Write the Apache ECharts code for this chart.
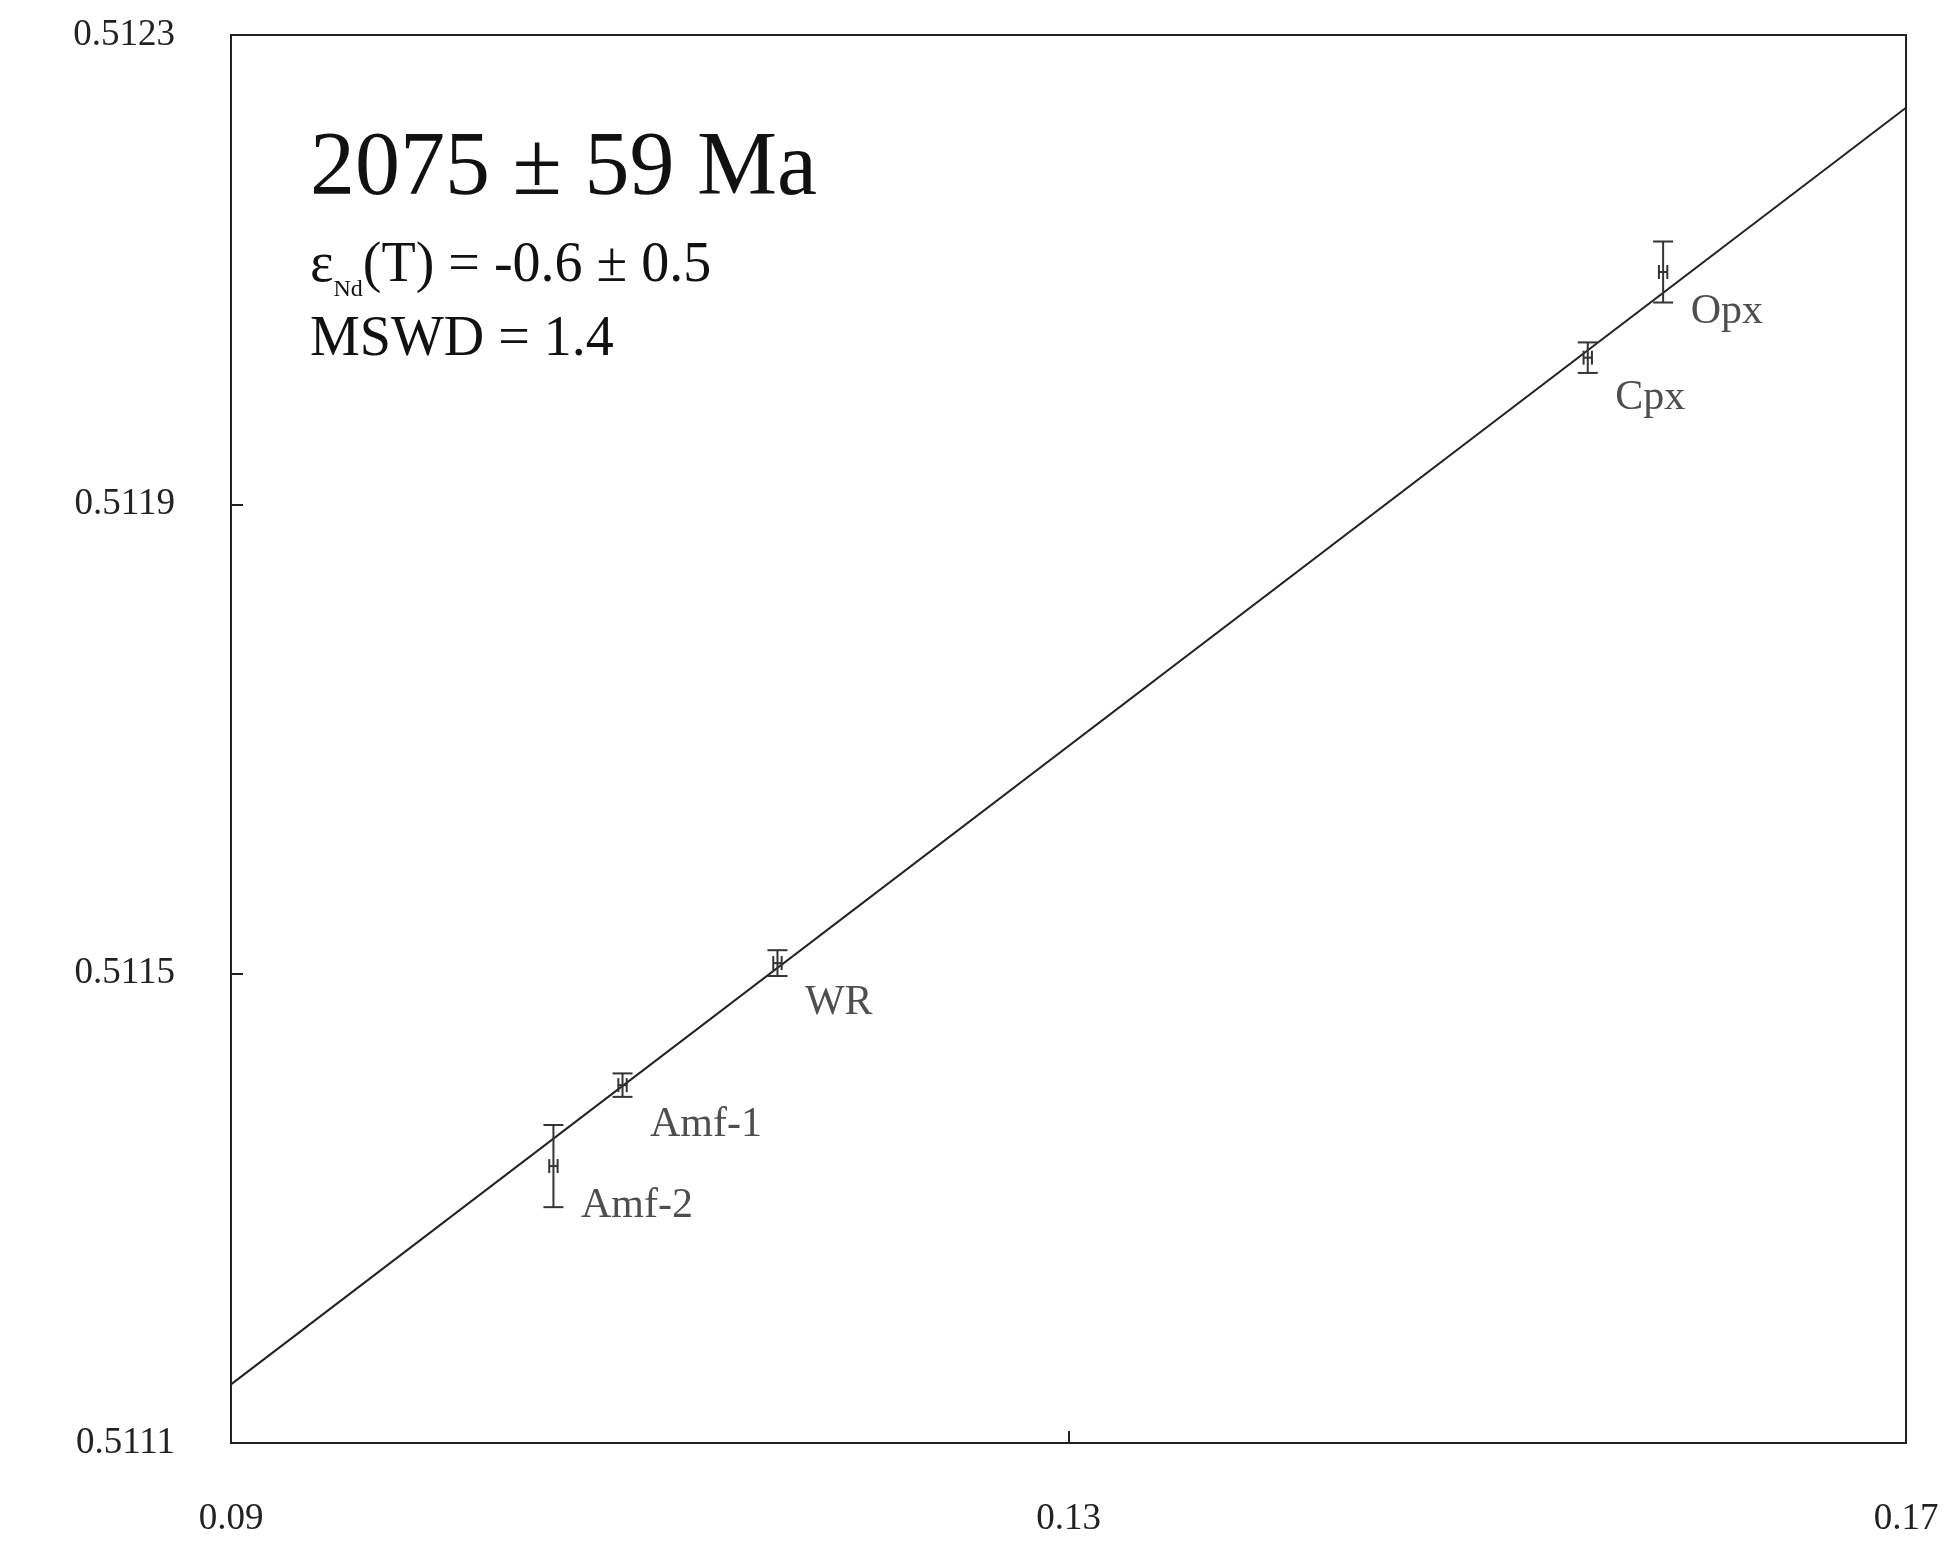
<!DOCTYPE html>
<html>
<head>
<meta charset="utf-8">
<script src="https://cdn.jsdelivr.net/npm/echarts@6/dist/echarts.min.js"></script>
<style>html,body{margin:0;background:#fff}#chart{width:1947px;height:1554px}</style>
</head>
<body>
<div id="chart"></div>
<script>
// 147Sm/144Nd vs 143Nd/144Nd isochron
const names = ['Amf-2', 'Amf-1', 'WR', 'Cpx', 'Opx'];
const xVals = [0.1054, 0.1087, 0.1161, 0.1548, 0.1584];
const yVals = [0.511336, 0.511405, 0.511509, 0.512025, 0.512098];
const xErr = [0.0002, 0.0002, 0.0002, 0.0002, 0.0002];
const yErr = [0.000035, 0.000010, 0.000011, 0.000013, 0.000026];
const lineX = [0.09, 0.17];
const lineY = [0.51115, 0.512238];
const xTicks = [0.09, 0.13, 0.17];
const yTicks = [0.5111, 0.5115, 0.5119, 0.5123];

const font = '"Liberation Serif", "Times New Roman", serif';
const points = names.map((n, i) => [xVals[i], yVals[i], xErr[i], yErr[i], n]);

let chart = echarts.init(document.getElementById('chart'));
chart.setOption({
    animation: false,
    grid: { left: 231, right: 41, top: 35, bottom: 111, show: true, borderColor: '#222', borderWidth: 2 },
    xAxis: {
        type: 'value', min: 0.09, max: 0.17,
        axisLine: { show: false },
        splitLine: { show: false },
        axisTick: { inside: true, length: 12, lineStyle: { color: '#222', width: 2 }, customValues: xTicks },
        axisLabel: { customValues: xTicks, margin: 58, fontFamily: font, fontSize: 37, color: '#222',
            formatter: v => String(+v.toFixed(2)) }
    },
    yAxis: {
        type: 'value', min: 0.5111, max: 0.5123,
        axisLine: { show: false },
        splitLine: { show: false },
        axisTick: { inside: true, length: 12, lineStyle: { color: '#222', width: 2 }, customValues: yTicks },
        axisLabel: { customValues: yTicks, margin: 56, fontFamily: font, fontSize: 37, color: '#222',
            formatter: v => v.toFixed(4) }
    },
    series: [
        {
            type: 'line', data: lineX.map((x, i) => [x, lineY[i]]),
            symbol: 'none', lineStyle: { color: '#222', width: 2 }, z: 2
        },
        {
            type: 'custom', data: points, z: 3,
            renderItem: function (params, api) {
                const x = api.value(0), y = api.value(1), ex = api.value(2), ey = api.value(3);
                const top = api.coord([x, y + ey]), bot = api.coord([x, y - ey]);
                const l = api.coord([x - ex, y]), r = api.coord([x + ex, y]);
                const cap = 10, style = { stroke: '#333', lineWidth: 2 };
                return {
                    type: 'group', children: [
                        { type: 'line', shape: { x1: top[0], y1: top[1], x2: bot[0], y2: bot[1] }, style },
                        { type: 'line', shape: { x1: top[0] - cap, y1: top[1], x2: top[0] + cap, y2: top[1] }, style },
                        { type: 'line', shape: { x1: bot[0] - cap, y1: bot[1], x2: bot[0] + cap, y2: bot[1] }, style },
                        { type: 'line', shape: { x1: l[0], y1: l[1], x2: r[0], y2: r[1] }, style },
                        { type: 'line', shape: { x1: l[0], y1: l[1] - 7, x2: l[0], y2: l[1] + 7 }, style },
                        { type: 'line', shape: { x1: r[0], y1: r[1] - 7, x2: r[0], y2: r[1] + 7 }, style }
                    ]
                };
            }
        },
        {
            type: 'scatter', data: points, symbolSize: 1, itemStyle: { color: 'transparent' },
            label: {
                show: true, position: 'right', offset: [22, 40], formatter: p => p.value[4],
                fontFamily: font, fontSize: 42, color: '#222'
            }
        }
    ],
    graphic: [
        { type: 'text', left: 310, top: 125, style: { text: '2075 ± 59 Ma', font: '90px ' + font, fill: '#111' } },
        {
            type: 'text', left: 310, top: 238, style: {
                text: '{e|ε}{s|Nd}{e|(T) = -0.6 ± 0.5}',
                rich: {
                    e: { font: '56px ' + font, fill: '#111' },
                    s: { font: '24px ' + font, fill: '#111', verticalAlign: 'bottom', padding: [0, 0, -8, 0] }
                }
            }
        },
        { type: 'text', left: 310, top: 312, style: { text: 'MSWD = 1.4', font: '56px ' + font, fill: '#111' } }
    ]
});
</script>
</body>
</html>
